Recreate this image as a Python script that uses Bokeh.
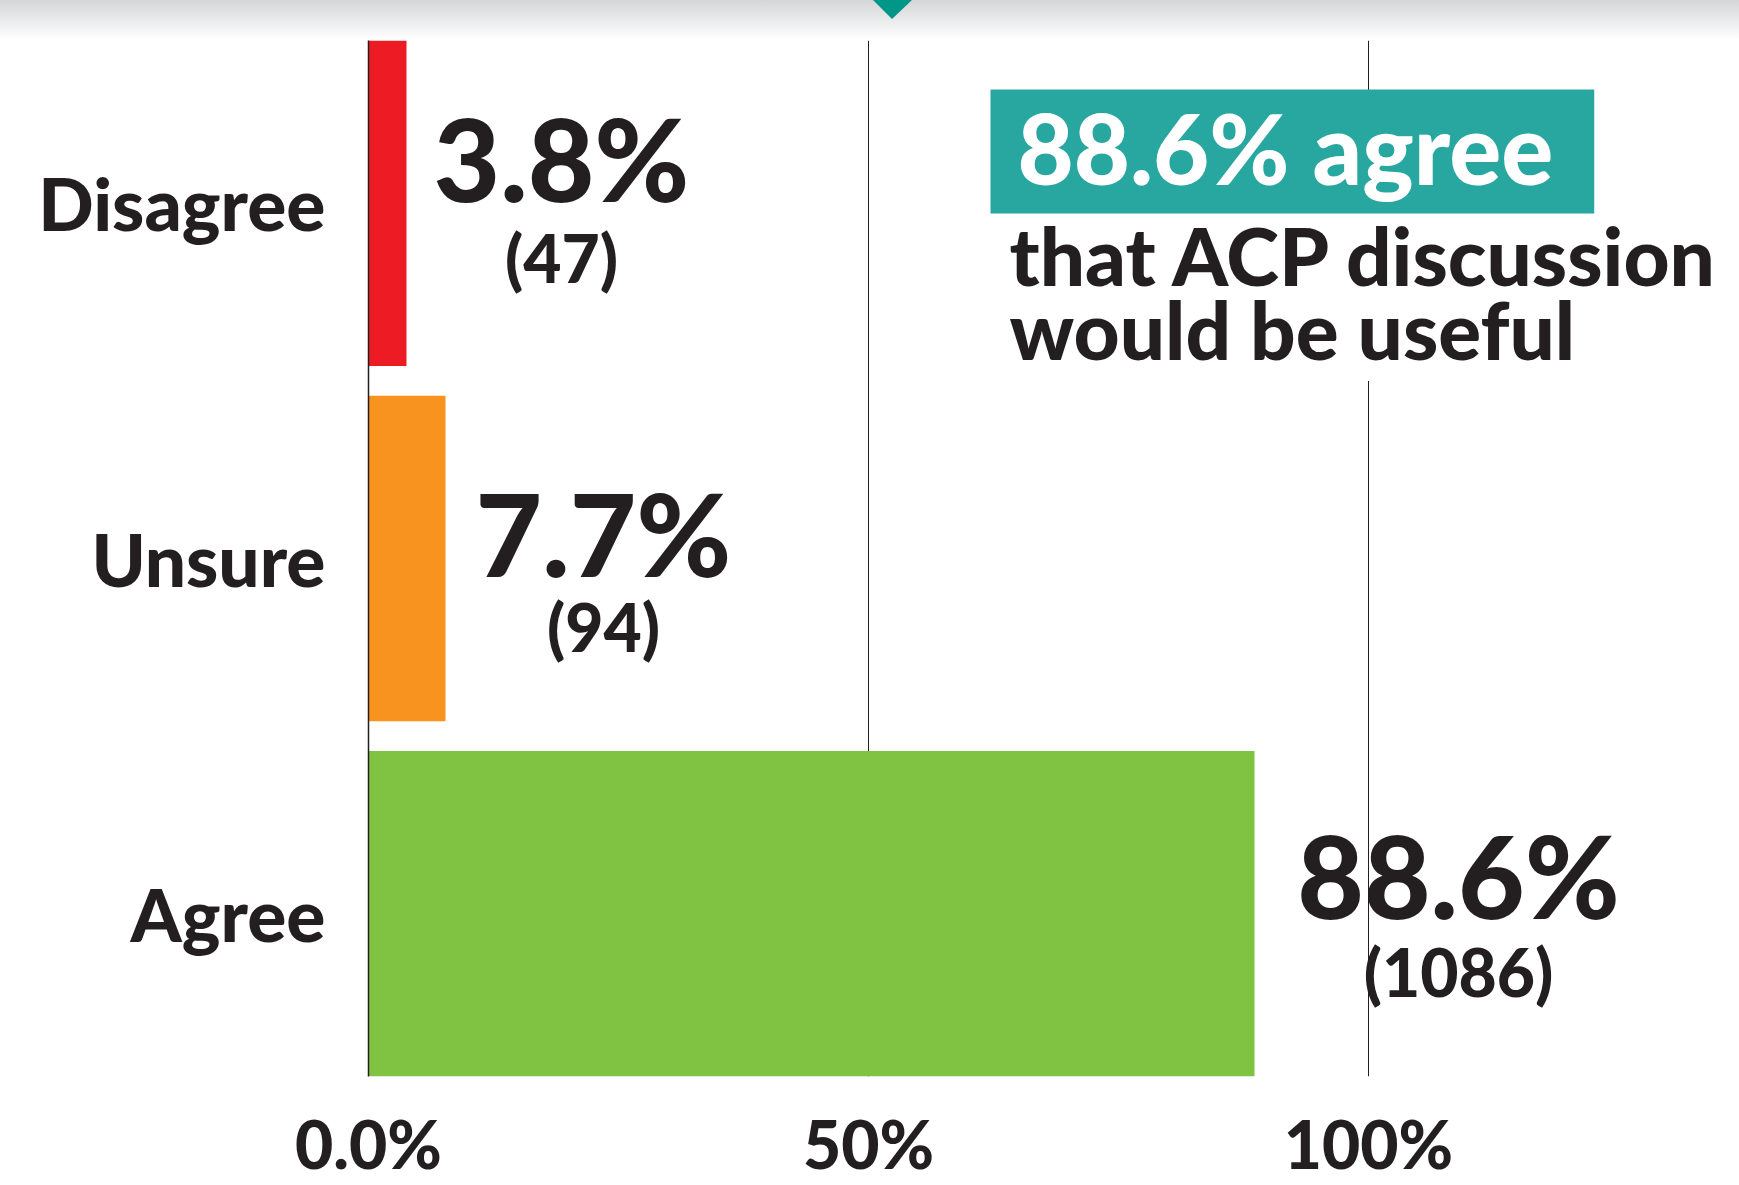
from bokeh.plotting import figure
from bokeh.models import FactorRange, Range1d, FixedTicker, Label, ColumnDataSource, Div
from bokeh.layouts import column
from bokeh.embed import file_html
from bokeh.resources import INLINE
from bokeh.core.properties import value

# ---- data ----
categories = ["Disagree", "Unsure", "Agree"]
percents = [3.8, 7.7, 88.6]
counts = [47, 94, 1086]
bar_colors = ["#ed1c24", "#f7931e", "#80c342"]
tick_values = [0, 50, 100]
tick_labels = ["0.0%", "50%", "100%"]
headline = "88.6% agree"
subline = "that ACP discussion\nwould be useful"

# ---- layout / style ----
label_dx = [155, 158, 204]   # px offsets of value labels (centre) from bar end
label_dy = [-46, -27, -40]   # px offsets of value labels from bar centre
count_dy = [54, 68, 58]

INK = "#231f20"
TEAL = "#28a6a0"
ARROW = "#009688"
FONT = "Lato Heavy, Lato"
FONT_HEAD = "Lato Black, Lato"

W = 1739
HEAD_H = 40
MAIN_H = 1185 - HEAD_H

# ---- header strip (grey fade + marker) ----
header = Div(
    width=W, height=HEAD_H, margin=0,
    styles={"background": "linear-gradient(to bottom, #d5d6d8, #ffffff)"},
    text=(f'<svg width="{W}" height="{HEAD_H}" style="display:block">'
          f'<polygon points="873,0 912,0 892,19" fill="{ARROW}"/></svg>'),
)

# ---- main chart ----
src = ColumnDataSource(dict(
    cat=categories,
    pct=percents,
    color=bar_colors,
    pct_text=[f"{v}%" for v in percents],
    cnt_text=[f"({c})" for c in counts],
    dx=label_dx,
    dy=label_dy,
    cdy=count_dy,
))

y_range = FactorRange(factors=categories[::-1], range_padding=-0.028, range_padding_units="percent")
p = figure(width=W, height=MAIN_H, y_range=y_range, x_range=Range1d(0, 136.3),
           output_backend="svg", toolbar_location=None,
           min_border_left=368, min_border_right=8, min_border_top=0, min_border_bottom=107,
           outline_line_color=None)

p.hbar(y="cat", left=0, right="pct", height=0.916, fill_color="color", line_color=None, source=src)

p.text(x="pct", y="cat", text="pct_text", x_offset="dx", y_offset="dy",
       text_align="center", text_baseline="alphabetic",
       text_font=value(FONT), text_font_style="bold", text_font_size=value("115px"),
       text_color=INK, source=src)
p.text(x="pct", y="cat", text="cnt_text", x_offset="dx", y_offset="cdy",
       text_align="center", text_baseline="alphabetic",
       text_font=value(FONT), text_font_style="bold", text_font_size=value("66px"),
       text_color=INK, source=src)

# grid
p.ygrid.visible = False
p.xgrid.ticker = FixedTicker(ticks=tick_values)
p.xgrid.grid_line_color = INK
p.xgrid.grid_line_width = 1

# x axis
p.xaxis.ticker = FixedTicker(ticks=tick_values)
p.xaxis.major_label_overrides = {v: s for v, s in zip(tick_values, tick_labels)}
p.xaxis.axis_line_color = None
p.xaxis.major_tick_line_color = None
p.xaxis.minor_tick_line_color = None
p.xaxis.major_tick_out = 0
p.xaxis.major_tick_in = 0
p.xaxis.major_label_standoff = 27
p.xaxis.major_label_text_font = FONT
p.xaxis.major_label_text_font_style = "bold"
p.xaxis.major_label_text_font_size = "66px"
p.xaxis.major_label_text_color = INK

# y axis
p.yaxis.axis_line_color = INK
p.yaxis.axis_line_width = 1.5
p.yaxis.major_tick_line_color = None
p.yaxis.minor_tick_line_color = None
p.yaxis.major_tick_out = 0
p.yaxis.major_tick_in = 0
p.yaxis.major_label_standoff = 43
p.yaxis.major_label_text_font = FONT
p.yaxis.major_label_text_font_style = "bold"
p.yaxis.major_label_text_font_size = "73px"
p.yaxis.major_label_text_color = INK

# annotation (subtitle first so the teal box sits on top of its white backing)
p.add_layout(Label(x=64.1, y=2.489, text=subline, anchor="top_left",
                   text_font=FONT, text_font_style="bold", text_font_size="80px",
                   text_line_height=0.77, text_color=INK, background_fill_color="white",
                   padding=dict(left=0, right=0, top=0, bottom=4)))
p.add_layout(Label(x=62.2, y=2.8203, text=headline, anchor="top_left",
                   text_font=FONT_HEAD, text_font_style="bold", text_font_size="97px",
                   text_color="white", background_fill_color=TEAL,
                   padding=dict(left=27, right=41, top=0, bottom=7)))

layout = column(header, p, spacing=0)
open("out.html", "w").write(file_html(layout, INLINE))
